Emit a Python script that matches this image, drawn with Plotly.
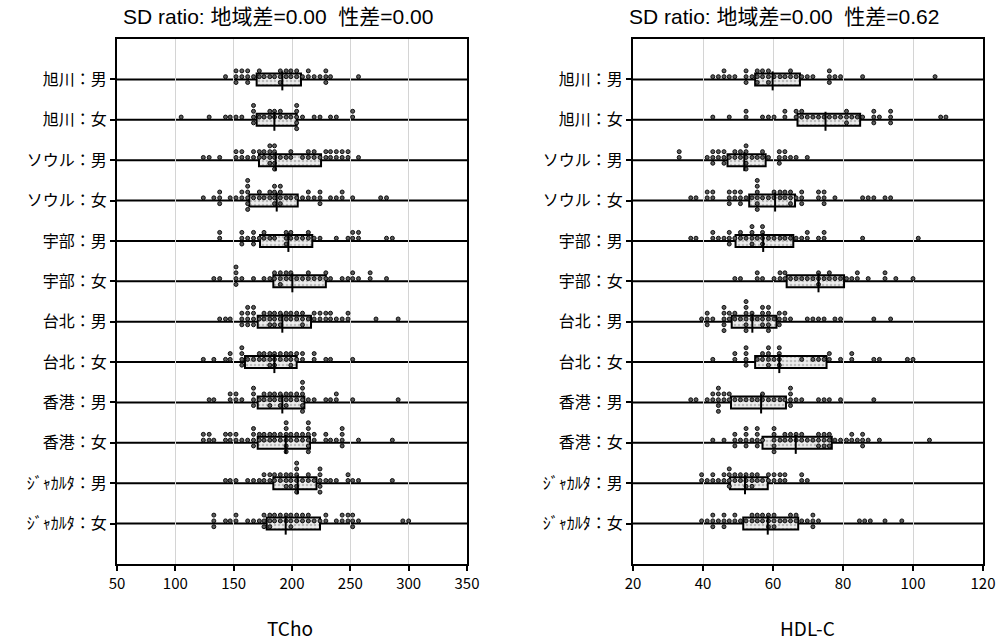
import plotly.graph_objects as go

# ---------------- data ----------------
ROWS = ["旭川：男", "旭川：女", "ソウル：男", "ソウル：女", "宇部：男", "宇部：女",
        "台北：男", "台北：女", "香港：男", "香港：女", "ｼﾞｬｶﾙﾀ：男", "ｼﾞｬｶﾙﾀ：女"]

TITLE_L = "SD ratio: 地域差=0.00\u00a0\u00a0性差=0.00"
TITLE_R = "SD ratio: 地域差=0.00\u00a0\u00a0性差=0.62"
XTITLE_L = "TCho"
XTITLE_R = "HDL-C"
XTICKS_L = [50, 100, 150, 200, 250, 300, 350]
XTICKS_R = [20, 40, 60, 80, 100, 120]

# box statistics (Q1, median, Q3)
TCHO_Q1 = [169.7, 169.7, 171.7, 163.4, 172.6, 184.0, 170.6, 159.7, 170.6, 170.6, 184.0, 178.3]
TCHO_MED = [191.7, 184.9, 186.0, 186.9, 196.9, 200.3, 191.7, 184.9, 191.7, 194.6, 204.9, 194.6]
TCHO_Q3 = [207.7, 204.0, 224.9, 204.9, 217.4, 229.0, 216.3, 204.0, 210.6, 215.4, 221.0, 224.0]

HDL_Q1 = [54.9, 67.0, 47.0, 53.2, 49.3, 63.9, 48.2, 54.9, 48.0, 57.0, 47.7, 51.5]
HDL_MED = [59.9, 75.0, 51.8, 60.6, 57.2, 73.0, 54.1, 61.8, 56.6, 66.5, 52.0, 58.5]
HDL_Q3 = [67.7, 84.9, 57.9, 66.3, 65.8, 80.3, 61.0, 75.3, 63.7, 76.8, 58.5, 67.2]

# individual values (TCho)
TCHO_ASA_M = [143, 152, 152, 152, 157, 157, 162, 162, 162, 167, 172, 172, 176, 181, 185,
              190, 190, 190, 195, 195, 199, 199, 204, 204, 209, 214, 214, 219, 224,
              229, 229, 229, 233, 257]
TCHO_ASA_F = [105, 129, 143, 147, 152, 157, 167, 167, 167, 167, 172, 176, 181, 181, 185, 185,
              190, 190, 195, 199, 204, 204, 204, 204, 204, 209, 219, 224, 233, 238, 252, 252]
TCHO_SEO_M = [124, 129, 138, 152, 152, 157, 157, 162, 167, 167, 172, 172, 176, 176,
              181, 181, 181, 181, 185, 185, 185, 185, 185, 190, 195, 199, 199, 209,
              214, 214, 219, 219, 224, 229, 229, 233, 233, 238, 238, 243, 243, 248, 248, 257]
TCHO_SEO_F = [124, 133, 138, 138, 138, 147, 152, 157, 157, 162, 162, 162, 162, 162, 162,
              167, 172, 172, 176, 181, 181, 185, 185, 185, 185, 190, 190, 190, 190,
              195, 199, 204, 209, 214, 214, 219, 224, 224, 224, 233, 238, 243, 243,
              252, 276, 281]
TCHO_UBE_M = [138, 138, 157, 157, 157, 162, 167, 167, 167, 172, 176, 176, 181, 185,
              195, 195, 195, 199, 199, 204, 209, 214, 214, 219, 224, 238, 248, 252, 252,
              257, 257, 281, 286]
TCHO_UBE_F = [133, 138, 152, 152, 152, 152, 157, 167, 176, 181, 185, 185, 190, 190, 190,
              195, 195, 199, 199, 204, 209, 214, 214, 219, 224, 229, 229, 233, 243, 248,
              252, 252, 257, 267, 267, 281]
TCHO_TPE_M = [138, 143, 147, 157, 157, 157, 162, 162, 162, 162, 167, 167, 167, 167, 172,
              176, 176, 181, 181, 181, 185, 185, 185, 190, 190, 190, 195, 195, 199, 199,
              204, 204, 209, 209, 209, 214, 219, 219, 224, 224, 229, 229, 233, 233, 238,
              243, 248, 248, 272, 291]
TCHO_TPE_F = [124, 133, 143, 147, 147, 157, 157, 157, 157, 162, 167, 172, 172, 176, 176,
              181, 181, 181, 185, 185, 185, 190, 190, 195, 195, 199, 199, 199, 204, 204,
              209, 209, 219, 219, 229, 233, 252]
TCHO_HKG_M = [129, 133, 147, 147, 152, 152, 157, 167, 167, 167, 167, 172, 176, 176,
              181, 181, 181, 185, 185, 190, 190, 190, 195, 195, 195, 199, 199, 204, 204,
              209, 209, 209, 209, 209, 209, 214, 219, 229, 233, 238, 238, 252, 291]
TCHO_HKG_F = [124, 124, 129, 129, 133, 143, 143, 147, 147, 152, 152, 157, 162, 167, 167,
              167, 167, 172, 172, 176, 176, 181, 181, 185, 185, 190, 190, 195, 195, 195,
              195, 195, 195, 199, 199, 204, 204, 209, 209, 214, 214, 214, 214, 214, 214,
              219, 219, 229, 229, 233, 238, 243, 243, 243, 243, 257, 286]
TCHO_JKT_M = [143, 147, 152, 162, 167, 172, 176, 176, 181, 181, 185, 185, 190, 190,
              195, 195, 195, 199, 199, 199, 204, 204, 204, 204, 204, 204, 209, 214, 214,
              219, 224, 224, 224, 224, 224, 229, 233, 238, 248, 248, 252, 257, 286]
TCHO_JKT_F = [133, 133, 133, 143, 147, 152, 152, 162, 167, 172, 176, 176, 176, 181, 181,
              181, 185, 185, 190, 190, 195, 195, 199, 199, 199, 204, 204, 209, 209, 214,
              214, 219, 224, 229, 229, 238, 243, 243, 248, 248, 252, 252, 252, 257, 295, 300]

# individual values (HDL-C)
HDL_ASA_M = [42.8, 44.4, 46.0, 46.0, 47.5, 49.1, 52.3, 52.3, 52.3, 54.0, 55.5, 55.5, 55.5,
             57.0, 57.0, 58.7, 58.7, 58.7, 60.3, 62.0, 63.4, 65.0, 65.0, 66.6, 68.2, 69.8,
             71.4, 76.1, 76.1, 76.1, 77.7, 79.3, 85.6, 106.3]
HDL_ASA_F = [42.8, 47.5, 52.3, 52.3, 57.0, 58.7, 60.3, 63.4, 63.4, 66.6, 66.6, 68.2, 68.2,
             69.8, 71.4, 73.0, 74.6, 76.1, 77.7, 79.3, 81.0, 81.0, 81.0, 82.5, 84.1, 85.6,
             88.8, 88.8, 88.8, 90.4, 93.6, 93.6, 93.6, 107.9, 109.4]
HDL_SEO_M = [33.2, 33.2, 41.2, 42.8, 42.8, 42.8, 44.4, 44.4, 46.0, 46.0, 46.0, 47.5, 49.1,
             49.1, 50.7, 50.7, 52.3, 52.3, 52.3, 52.3, 52.3, 54.0, 55.5, 57.0, 57.0, 58.7,
             61.8, 61.8, 61.8, 63.4, 63.4, 65.0, 66.6, 69.8]
HDL_SEO_F = [36.5, 38.0, 41.2, 41.2, 42.8, 42.8, 47.5, 47.5, 47.5, 49.1, 49.1, 50.7, 50.7,
             50.7, 52.3, 54.0, 55.5, 55.5, 55.5, 55.5, 55.5, 55.5, 57.0, 58.7, 60.3, 60.3,
             62.0, 62.0, 63.4, 63.4, 65.0, 65.0, 65.0, 66.6, 68.2, 68.2, 68.2, 73.0, 73.0,
             74.6, 74.6, 74.6, 77.7, 85.6, 87.2, 88.8, 92.0, 93.6]
HDL_UBE_M = [36.5, 38.0, 42.8, 42.8, 44.4, 46.0, 47.5, 47.5, 47.5, 49.1, 50.7, 50.7, 52.3,
             54.0, 54.0, 54.0, 54.0, 55.5, 57.0, 57.0, 57.0, 57.0, 58.7, 60.3, 62.0, 63.4,
             65.0, 66.6, 68.2, 69.8, 69.8, 73.0, 74.6, 74.6, 85.6, 101.5]
HDL_UBE_F = [49.1, 50.7, 55.5, 55.5, 57.0, 60.3, 62.0, 62.0, 63.4, 63.4, 65.0, 66.6, 68.2,
             69.8, 71.4, 73.0, 73.0, 73.0, 74.6, 76.1, 76.1, 77.7, 79.3, 81.0, 82.5, 84.1,
             84.1, 87.2, 92.0, 92.0, 95.1, 100.0]
HDL_TPE_M = [39.6, 41.2, 41.2, 41.2, 42.8, 46.0, 46.0, 46.0, 46.0, 46.0, 47.5, 47.5, 49.1,
             49.1, 50.7, 52.3, 52.3, 52.3, 52.3, 52.3, 52.3, 54.0, 54.0, 55.5, 57.0, 57.0,
             57.0, 57.0, 58.7, 58.7, 58.7, 58.7, 58.7, 60.3, 61.8, 61.8, 61.8, 63.4, 63.4,
             65.0, 69.8, 71.4, 73.0, 74.6, 77.7, 79.3, 88.8, 93.6]
HDL_TPE_F = [42.8, 49.1, 49.1, 52.3, 52.3, 52.3, 52.3, 55.5, 57.0, 57.0, 58.7, 58.7, 58.7,
             58.7, 60.3, 61.8, 61.8, 61.8, 61.8, 68.2, 71.4, 73.0, 74.6, 76.1, 76.1, 79.3,
             82.5, 82.5, 88.8, 90.4, 98.4, 100.0]
HDL_HKG_M = [36.5, 38.0, 41.2, 42.8, 42.8, 44.4, 44.4, 44.4, 44.4, 44.4, 46.0, 46.0, 47.5,
             47.5, 49.1, 50.7, 52.3, 54.0, 55.5, 57.0, 57.0, 58.7, 60.3, 62.0, 63.4, 65.0,
             65.0, 65.0, 65.0, 66.6, 68.2, 73.0, 74.6, 76.1, 79.3, 88.8]
HDL_HKG_F = [42.8, 46.0, 49.1, 49.1, 49.1, 50.7, 52.3, 52.3, 52.3, 52.3, 54.0, 55.5, 55.5,
             55.5, 55.5, 57.0, 60.3, 60.3, 60.3, 60.3, 60.3, 62.0, 63.4, 63.4, 65.0, 65.0,
             66.6, 66.6, 68.2, 68.2, 69.8, 71.4, 73.0, 73.0, 73.0, 74.6, 74.6, 74.6, 76.1,
             76.1, 76.1, 77.7, 79.3, 81.0, 82.5, 82.5, 84.1, 85.6, 85.6, 85.6, 87.2, 90.4,
             104.7]
HDL_JKT_M = [39.6, 39.6, 41.2, 42.8, 42.8, 44.4, 46.0, 46.0, 47.5, 47.5, 47.5, 47.5, 49.1,
             49.1, 50.7, 50.7, 52.3, 52.3, 52.3, 54.0, 54.0, 54.0, 55.5, 55.5, 57.0, 58.7,
             58.7, 60.3, 60.3, 62.0, 62.0, 63.4, 63.4, 68.2, 68.2, 69.8]
HDL_JKT_F = [39.6, 41.2, 42.8, 42.8, 42.8, 44.4, 46.0, 46.0, 46.0, 47.5, 49.1, 49.1, 50.7,
             52.3, 54.0, 54.0, 55.5, 55.5, 57.0, 57.0, 58.7, 58.7, 58.7, 60.3, 60.3, 60.3,
             62.0, 63.4, 65.0, 65.0, 66.6, 66.6, 68.2, 69.8, 71.4, 71.4, 71.4, 73.0, 84.7,
             86.2, 87.8, 92.0, 96.8]

TCHO_GROUPS = [TCHO_ASA_M, TCHO_ASA_F, TCHO_SEO_M, TCHO_SEO_F, TCHO_UBE_M, TCHO_UBE_F,
               TCHO_TPE_M, TCHO_TPE_F, TCHO_HKG_M, TCHO_HKG_F, TCHO_JKT_M, TCHO_JKT_F]
HDL_GROUPS = [HDL_ASA_M, HDL_ASA_F, HDL_SEO_M, HDL_SEO_F, HDL_UBE_M, HDL_UBE_F,
              HDL_TPE_M, HDL_TPE_F, HDL_HKG_M, HDL_HKG_F, HDL_JKT_M, HDL_JKT_F]

# ---------------- style / layout constants ----------------
W, H = 1002, 642
PLOT_TOP, PLOT_BOT = 39, 564
L_X0, L_X1 = 117, 467
R_X0, R_X1 = 633, 983
NROW = len(ROWS)
UNIT_PX = (PLOT_BOT - PLOT_TOP) / (NROW + 1)
DOT0 = -2.7 / UNIT_PX
DOT_STEP = 5.8 / UNIT_PX
BOX_W = 12 / UNIT_PX
MED_TOP = -8 / UNIT_PX
MED_BOT = 11 / UNIT_PX
FONT = "Noto Sans CJK JP"

fig = go.Figure()


def stacked(groups):
    xs, ys = [], []
    for i, vals in enumerate(groups):
        seen = {}
        for v in vals:
            k = seen.get(v, 0)
            seen[v] = k + 1
            if k == 0:
                lev = 0
            elif k % 2 == 1:
                lev = -((k + 1) // 2)
            else:
                lev = k // 2
            xs.append(v)
            ys.append(i + 1 + DOT0 + DOT_STEP * lev)
    return xs, ys


def add_panel(groups, q1, med, q3, xa, ya):
    rows = list(range(1, NROW + 1))
    fig.add_trace(go.Bar(
        y=rows, x=[b - a for a, b in zip(q1, q3)], base=q1, orientation="h",
        width=BOX_W, xaxis=xa, yaxis=ya, showlegend=False, hoverinfo="skip",
        marker=dict(color="#ebebeb", line=dict(color="black", width=2),
                    pattern=dict(shape=".", fgcolor="#8c8c8c", bgcolor="#ededed",
                                 size=4, solidity=0.35))))
    xs, ys = stacked(groups)
    fig.add_trace(go.Scatter(
        x=xs, y=ys, mode="markers", xaxis=xa, yaxis=ya, showlegend=False,
        hoverinfo="skip",
        marker=dict(size=4, color="#5c5c5c", line=dict(color="black", width=0.9))))
    mx, my = [], []
    for r, m in zip(rows, med):
        mx += [m, m, None]
        my += [r + MED_TOP, r + MED_BOT, None]
    fig.add_trace(go.Scatter(
        x=mx, y=my, mode="lines", xaxis=xa, yaxis=ya, showlegend=False,
        hoverinfo="skip", line=dict(color="black", width=2)))


add_panel(TCHO_GROUPS, TCHO_Q1, TCHO_MED, TCHO_Q3, "x", "y")
add_panel(HDL_GROUPS, HDL_Q1, HDL_MED, HDL_Q3, "x2", "y2")

shapes = []
for xa, ya in (("x", "y"), ("x2", "y2")):
    for r in range(1, NROW + 1):
        shapes.append(dict(type="line", xref=xa + " domain", yref=ya, x0=0, x1=1,
                           y0=r, y1=r, line=dict(color="black", width=2), layer="below"))

ydom = [(H - PLOT_BOT) / H, (H - PLOT_TOP) / H]
xcommon = dict(showgrid=True, gridcolor="#d4d4d4", gridwidth=1, zeroline=False,
               showline=True, mirror=True, linecolor="black", linewidth=2,
               ticks="outside", ticklen=5, tickwidth=1.5, tickcolor="black",
               tickfont=dict(size=15, family=FONT, color="black"), automargin=False)
ycommon = dict(range=[NROW + 1, 0], tickvals=list(range(1, NROW + 1)), ticktext=ROWS,
               showgrid=False, zeroline=False, showline=True, mirror=True,
               linecolor="black", linewidth=2, ticks="outside", ticklen=5,
               tickwidth=1.5, tickcolor="black", domain=ydom, automargin=False,
               tickfont=dict(size=16, family=FONT, color="black"))

fig.update_layout(
    width=W, height=H, margin=dict(l=0, r=0, t=0, b=0),
    paper_bgcolor="white", plot_bgcolor="white",
    font=dict(family=FONT, color="black"),
    xaxis=dict(domain=[L_X0 / W, L_X1 / W], range=[50, 350], tickvals=XTICKS_L,
               anchor="y", **xcommon),
    yaxis=dict(anchor="x", **ycommon),
    xaxis2=dict(domain=[R_X0 / W, R_X1 / W], range=[20, 120], tickvals=XTICKS_R,
                anchor="y2", **xcommon),
    yaxis2=dict(anchor="x2", **ycommon),
    shapes=shapes,
    annotations=[
        dict(text=TITLE_L, x=278 / W, y=1 - 17 / H, xref="paper", yref="paper",
             showarrow=False, xanchor="center", yanchor="middle",
             font=dict(size=21, family="Liberation Sans, Noto Sans CJK JP")),
        dict(text=TITLE_R, x=784 / W, y=1 - 17 / H, xref="paper", yref="paper",
             showarrow=False, xanchor="center", yanchor="middle",
             font=dict(size=21, family="Liberation Sans, Noto Sans CJK JP")),
        dict(text=XTITLE_L, x=290 / W, y=1 - 627 / H, xref="paper", yref="paper",
             showarrow=False, xanchor="center", yanchor="middle",
             font=dict(size=19, family=FONT)),
        dict(text=XTITLE_R, x=807 / W, y=1 - 627 / H, xref="paper", yref="paper",
             showarrow=False, xanchor="center", yanchor="middle",
             font=dict(size=19, family=FONT)),
    ],
)

fig.write_html("out.html")
